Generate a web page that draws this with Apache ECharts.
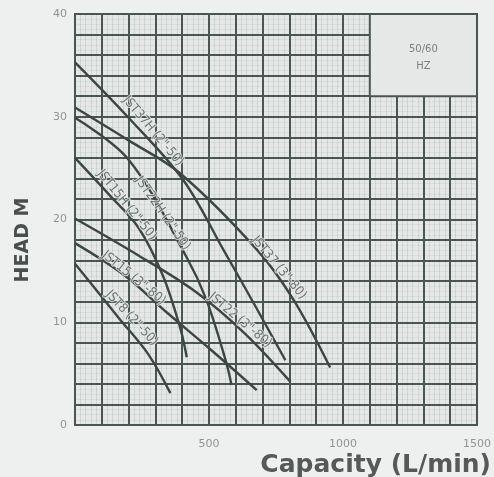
<!DOCTYPE html>
<html><head><meta charset="utf-8">
<script src="https://cdn.jsdelivr.net/npm/echarts@6/dist/echarts.min.js"></script>
<style>html,body{margin:0;padding:0;background:#eef0ef;}#c{width:494px;height:477px;}</style>
</head><body><div id="c"></div>
<script>
// tick labels
const xTickLabels = [500, 1000, 1500];
const yTickLabels = [0, 10, 20, 30, 40];

// curve names
const curveNames = ['JST37H (2"-50)', 'JST37 (3"-80)', 'JST22H (2"-50)', 'JST15H (2"-50)', 'JST22 (3"-80)', 'JST15 (3"-80)', 'JST8 (2"-50)'];

// curve values (capacity L/min, head m)
const jst37hQ = [0, 200, 405, 555, 670, 785];
const jst37hH = [35.3, 29.9, 23.8, 17.0, 11.7, 6.3];
const jst37Q  = [0, 200, 392, 681, 815, 952];
const jst37H  = [30.9, 27.7, 24.5, 17.0, 12.2, 5.6];
const jst22hQ = [0, 201, 417, 490, 562, 584];
const jst22hH = [29.9, 25.8, 16.3, 12.2, 6.3, 3.9];
const jst15hQ = [0, 128, 237, 327, 392, 417];
const jst15hH = [26.0, 22.4, 19.2, 14.6, 9.5, 6.6];
const jst22Q  = [0, 237, 454, 634, 804];
const jst22H  = [20.1, 16.5, 12.9, 8.9, 4.2];
const jst15Q  = [0, 183, 345, 508, 678];
const jst15H  = [17.7, 14.6, 10.9, 7.3, 3.4];
const jst8Q   = [0, 164, 273, 356];
const jst8H   = [15.7, 10.4, 6.9, 3.1];

// curve label anchors
const labelQ = [291, 761, 327, 193, 616, 219, 211];
const labelH = [28.6, 15.3, 20.6, 21.4, 10.2, 14.3, 10.4];
const labelAngle = [-50, -50, -55, -51, -40, -39, -47];

// frequency box
const boxQ = [1100, 1500];
const boxH = [32, 40];
const boxText = '50/60\nHZ';

const curvesQ = [jst37hQ, jst37Q, jst22hQ, jst15hQ, jst22Q, jst15Q, jst8Q];
const curvesH = [jst37hH, jst37H, jst22hH, jst15hH, jst22H, jst15H, jst8H];

const lineColor = '#3c4744';
const gridColor = '#4a5652';

const series = curveNames.map((name, i) => ({
  name: name,
  type: 'line',
  smooth: 0.35,
  symbol: 'none',
  lineStyle: { color: lineColor, width: 2.4 },
  data: curvesQ[i].map((q, j) => [q, curvesH[i][j]]),
  z: 3
}));

series.push({
  type: 'scatter',
  symbolSize: 0,
  z: 5,
  data: curveNames.map((n, i) => ({
    value: [labelQ[i], labelH[i]],
    label: {
      show: true,
      position: 'inside',
      rotate: labelAngle[i],
      formatter: n,
      color: '#4f5855',
      fontSize: 13,
      fontFamily: '"Liberation Sans Narrow", "DejaVu Sans Condensed", sans-serif',
      textBorderColor: '#e4e7e6',
      textBorderWidth: 2
    }
  })),
  markArea: {
    silent: true,
    itemStyle: { color: '#e6e8e7', borderColor: gridColor, borderWidth: 2 },
    label: {
      show: true, position: 'inside', offset: [0, 3],
      color: '#7a7f7d', fontSize: 10, lineHeight: 17,
      fontFamily: '"DejaVu Sans", sans-serif'
    },
    data: [[{ name: boxText, coord: [boxQ[0], boxH[1]] }, { coord: [boxQ[1], boxH[0]] }]]
  }
});

const chart = echarts.init(document.getElementById('c'), null, { renderer: 'canvas' });
chart.setOption({
  backgroundColor: '#eef0ef',
  animation: false,
  grid: {
    left: 75, right: 5, top: 14, bottom: 52,
    show: true, backgroundColor: '#e5e8e7', borderColor: gridColor, borderWidth: 2
  },
  xAxis: {
    type: 'value', min: 0, max: 1500, interval: 100,
    axisLine: { show: true, lineStyle: { color: gridColor, width: 2 } },
    axisTick: { show: false },
    axisLabel: {
      color: '#8f9492', fontSize: 11, margin: 14,
      fontFamily: '"DejaVu Sans", sans-serif',
      formatter: v => xTickLabels.includes(v) ? String(v) : ''
    },
    splitLine: { show: true, lineStyle: { color: gridColor, width: 2 } },
    minorTick: { show: false, splitNumber: 5 },
    minorSplitLine: { show: true, lineStyle: { color: 'rgba(40,50,48,0.10)', width: 1 } }
  },
  yAxis: {
    type: 'value', min: 0, max: 40, interval: 2,
    axisLine: { show: true, lineStyle: { color: gridColor, width: 2 } },
    axisTick: { show: false },
    axisLabel: {
      color: '#8f9492', fontSize: 11, margin: 8,
      fontFamily: '"DejaVu Sans", sans-serif',
      formatter: v => yTickLabels.includes(v) ? String(v) : ''
    },
    splitLine: { show: true, lineStyle: { color: gridColor, width: 2 } },
    minorTick: { show: false, splitNumber: 4 },
    minorSplitLine: { show: true, lineStyle: { color: 'rgba(40,50,48,0.06)', width: 1 } }
  },
  graphic: [
    {
      type: 'text', x: 23, y: 240, rotation: Math.PI / 2,
      style: {
        text: 'HEAD M', fill: '#4a4f4e', font: 'bold 19px "DejaVu Sans", sans-serif',
        textAlign: 'center', textVerticalAlign: 'middle'
      }
    },
    {
      type: 'text', x: 491, y: 465,
      style: {
        text: 'Capacity (L/min)', fill: '#555a59', font: 'bold 25px "DejaVu Sans", sans-serif',
        textAlign: 'right', textVerticalAlign: 'middle'
      }
    }
  ],
  series: series
});
</script>
</body></html>
